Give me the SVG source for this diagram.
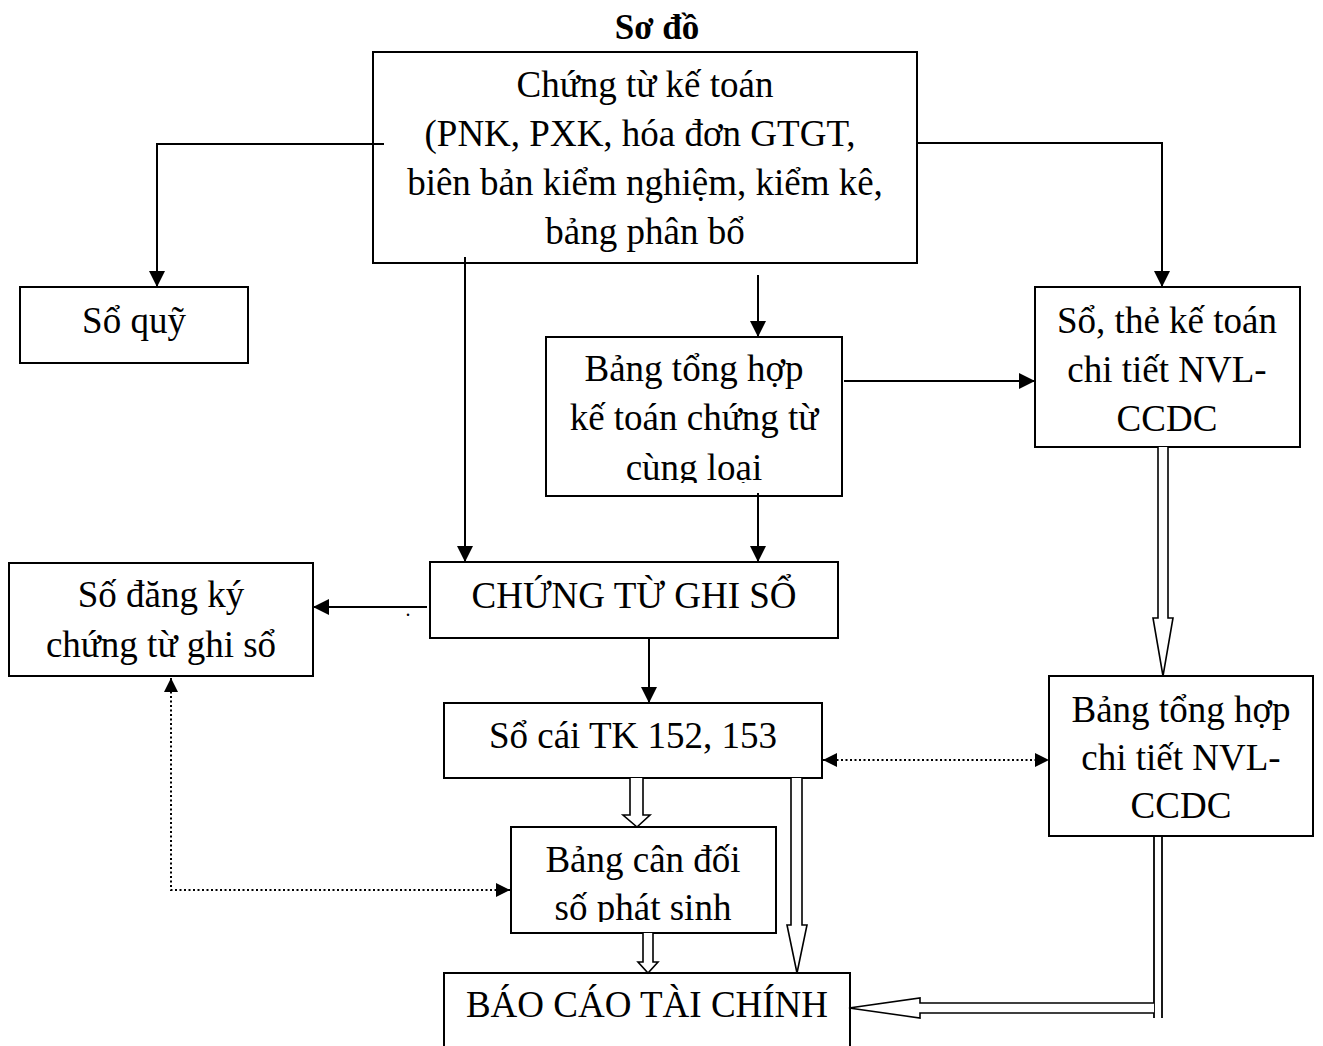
<svg xmlns="http://www.w3.org/2000/svg" width="1323" height="1046" viewBox="0 0 1323 1046">
  <style>
    .box { fill: #fff; stroke: #000; stroke-width: 2; }
    .lbl { font-family: "Liberation Serif", "Times New Roman", serif; font-size: 37px; fill: #000; text-anchor: middle; }
    .title { font-family: "Liberation Serif", "Times New Roman", serif; font-size: 35px; font-weight: bold; fill: #000; text-anchor: middle; }
    .ln { fill: none; stroke: #000; stroke-width: 2; }
    .dot { fill: none; stroke: #000; stroke-width: 2; stroke-dasharray: 2 2.5; }
    .hollow { fill: #fff; stroke: #000; stroke-width: 1.6; stroke-linejoin: miter; }
    .thin { fill: none; stroke: #000; stroke-width: 1.8; }
  </style>
  <defs>
    <marker id="arr" viewBox="0 0 16 16" refX="16" refY="8" markerWidth="16" markerHeight="16" markerUnits="userSpaceOnUse" orient="auto">
      <path d="M0,0 L16,8 L0,16 Z" fill="#000"/>
    </marker>
    <marker id="arrS" viewBox="0 0 14 14" refX="14" refY="7" markerWidth="14" markerHeight="14" markerUnits="userSpaceOnUse" orient="auto-start-reverse">
      <path d="M0,0 L14,7 L0,14 Z" fill="#000"/>
    </marker>
    <clipPath id="clipBth"><rect x="546" y="337" width="296" height="146"/></clipPath>
    <clipPath id="clipCd"><rect x="511" y="827" width="265" height="95"/></clipPath>
  </defs>

  <rect width="1323" height="1046" fill="#fff"/>

  <text class="title" x="657" y="39">Sơ đồ</text>

  <!-- nodes -->
  <g id="chung-tu-ke-toan">
    <rect class="box" x="373" y="52" width="544" height="211"/>
    <text class="lbl" x="645" y="97">Chứng từ kế toán</text>
    <text class="lbl" x="640" y="146">(PNK, PXK, hóa đơn GTGT,</text>
    <text class="lbl" x="645" y="195">biên bản kiểm nghiệm, kiểm kê,</text>
    <text class="lbl" x="645" y="244">bảng phân bổ</text>
  </g>

  <g id="so-quy">
    <rect class="box" x="20" y="287" width="228" height="76"/>
    <text class="lbl" x="134" y="333">Sổ quỹ</text>
  </g>

  <g id="so-the-chi-tiet">
    <rect class="box" x="1035" y="287" width="265" height="160"/>
    <text class="lbl" x="1167" y="333">Sổ, thẻ kế toán</text>
    <text class="lbl" x="1167" y="382">chi tiết NVL-</text>
    <text class="lbl" x="1167" y="431">CCDC</text>
  </g>

  <g id="bang-tong-hop-chung-tu">
    <rect class="box" x="546" y="337" width="296" height="159"/>
    <g clip-path="url(#clipBth)">
      <text class="lbl" x="694" y="381">Bảng tổng hợp</text>
      <text class="lbl" x="694" y="430">kế toán chứng từ</text>
      <text class="lbl" x="694" y="480">cùng loại</text>
    </g>
  </g>

  <g id="chung-tu-ghi-so">
    <rect class="box" x="430" y="562" width="408" height="76"/>
    <text class="lbl" x="634" y="608">CHỨNG TỪ GHI SỔ</text>
  </g>

  <g id="so-dang-ky">
    <rect class="box" x="9" y="563" width="304" height="113"/>
    <text class="lbl" x="161" y="607">Số đăng ký</text>
    <text class="lbl" x="161" y="657">chứng từ ghi sổ</text>
  </g>

  <g id="so-cai">
    <rect class="box" x="444" y="703" width="378" height="75"/>
    <text class="lbl" x="633" y="748">Sổ cái TK 152, 153</text>
  </g>

  <g id="bang-tong-hop-chi-tiet">
    <rect class="box" x="1049" y="676" width="264" height="160"/>
    <text class="lbl" x="1181" y="722">Bảng tổng hợp</text>
    <text class="lbl" x="1181" y="770">chi tiết NVL-</text>
    <text class="lbl" x="1181" y="818">CCDC</text>
  </g>

  <g id="bang-can-doi">
    <rect class="box" x="511" y="827" width="265" height="106"/>
    <g clip-path="url(#clipCd)">
      <text class="lbl" x="643" y="872">Bảng cân đối</text>
      <text class="lbl" x="643" y="920">số phát sinh</text>
    </g>
  </g>

  <g id="bao-cao-tai-chinh">
    <rect class="box" x="444" y="973" width="406" height="100"/>
    <text class="lbl" x="647" y="1017">BÁO CÁO TÀI CHÍNH</text>
  </g>

  <!-- connectors -->
  <g id="connectors">
    <polyline class="ln" points="384,144 157,144 157,287" marker-end="url(#arr)"/>
    <polyline class="ln" points="917,143 1162,143 1162,287" marker-end="url(#arr)"/>
    <line class="ln" x1="465" y1="257" x2="465" y2="562" marker-end="url(#arr)"/>
    <line class="ln" x1="758" y1="275" x2="758" y2="337" marker-end="url(#arr)"/>
    <line class="ln" x1="844" y1="381" x2="1035" y2="381" marker-end="url(#arr)"/>
    <line class="ln" x1="758" y1="493" x2="758" y2="562" marker-end="url(#arr)"/>
    <line class="ln" x1="427" y1="607" x2="313" y2="607" marker-end="url(#arr)"/>
    <text x="408" y="616" font-family="Liberation Serif, serif" font-size="20" text-anchor="middle">.</text>
    <line class="ln" x1="649" y1="638" x2="649" y2="703" marker-end="url(#arr)"/>

    <!-- dotted reconciliation links -->
    <polyline class="dot" points="171,678 171,890 510,890" marker-start="url(#arrS)" marker-end="url(#arrS)"/>
    <line class="dot" x1="823" y1="760" x2="1049" y2="760" marker-start="url(#arrS)" marker-end="url(#arrS)"/>

    <!-- hollow block arrows -->
    <path class="hollow" d="M1158,447 V618 H1153 L1163,676 L1173,618 H1168 V447"/>
    <path class="hollow" d="M630,778 V815 H623 L637,827 L650,815 H643 V778"/>
    <path class="hollow" d="M643,933 V962 H638 L648,973 L658,962 H653 V933"/>
    <path class="hollow" d="M791,778 V925 H787 L797,973 L807,925 H802 V778"/>
    <line class="thin" x1="1154" y1="836" x2="1154" y2="1018"/>
    <line class="thin" x1="1162" y1="836" x2="1162" y2="1018"/>
    <path class="hollow" d="M1154,1003 H920 V998 L849,1008 L920,1018 V1013 H1154"/>
  </g>
</svg>
